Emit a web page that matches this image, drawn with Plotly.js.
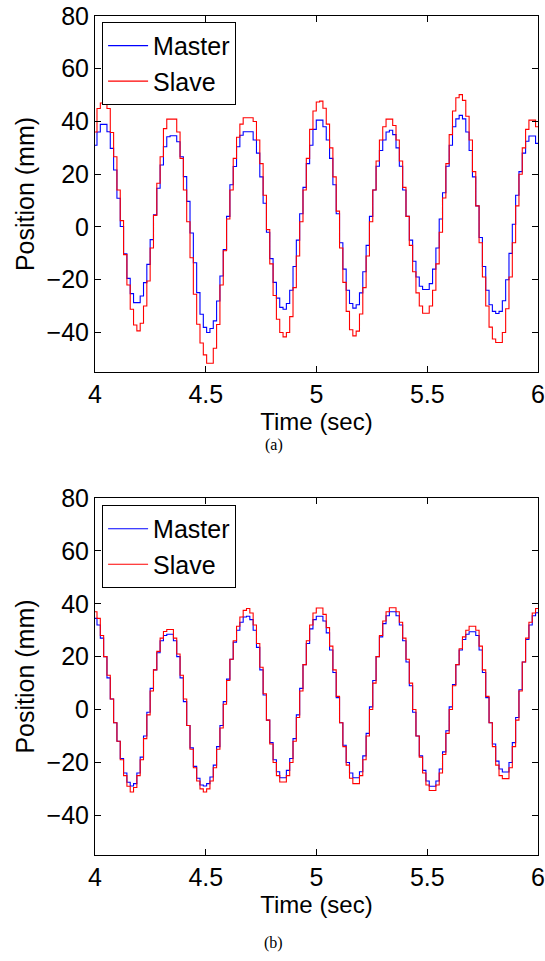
<!DOCTYPE html>
<html>
<head>
<meta charset="utf-8">
<script src="https://cdn.plot.ly/plotly-3.0.1.min.js"></script>
<style>html,body{margin:0;padding:0;background:#fff;}#chart{width:545px;height:961px;}</style>
</head>
<body>
<div id="chart"></div>
<script>
// Sampling of the staircase signals (seconds)
const sampleStart = 3.994;
const sampleStep = 0.015;

// (a) top panel
const topMaster = [31, 36, 38.9, 38.9, 36.1, 29.8, 21.6, 10.9, 0.2, -10.2, -19.5, -25.3, -28.7, -28.7, -26.2, -21.1, -14.2, -4.8, 4.6, 14.7, 23.5, 30.4, 34.2,
  34.6, 34.6, 32.3, 26.6, 19.1, 9.7, -2.3, -13.6, -24.9, -33.1, -38.1, -40, -38.5, -35.6, -28.1, -18.6, -8.6, 4, 16, 22.9, 30.4, 34.8, 36.1, 36.1,
  36.1, 33, 28, 19, 9, -2, -12, -21, -27, -30.5, -31.2, -29, -24, -15, -5, 5, 15, 24, 31, 37, 40.5, 40.5, 38, 33,
  26, 16, 5, -6, -16, -24, -29, -30.8, -29.5, -25, -17, -7, 4, 14, 23, 29, 33, 36, 36.7, 35, 30, 23, 14, 4, -5, -13, -19, -22.5, -23.7, -23.7,
  -21.5, -16, -8, 3, 13, 23, 31, 38, 41, 42.3, 41, 36, 29, 19, 8, -4, -15, -24, -29.5, -32, -32.8, -32, -28, -20, -10, 1, 12, 21, 28, 32.5,
  34.5, 34.5, 31.7, 30];
const topSlave = [36, 44.9, 47, 47, 44.9, 35.8, 26.6, 14, 2.4, -10.5, -22, -31.2, -37.2, -39.4, -36.5, -30, -20.5, -8, 4.4, 16.6, 26.6, 37.3, 40.9,
  40.9, 40.9, 36, 26, 14, 2, -11.7, -25.5, -36.9, -44, -48.5, -51.7, -51.7, -46, -37, -22, -9, 3, 14, 26, 34, 39, 41.4, 41.4,
  41.4, 40, 33, 24, 12, -1, -14, -26, -35, -40, -41.7, -40, -34, -23, -11, 2, 14, 26, 37, 44, 47.4, 47.7, 45, 39,
  30, 19, 6, -8, -21, -32, -39, -41.3, -39.5, -33, -23, -11, 2, 14, 25, 33, 38, 40.9, 40.9, 38.5, 33, 25, 15, 4, -7, -17, -25, -30, -32.7, -32.7,
  -30, -24, -14, -2, 11, 24, 35, 44, 49, 50.2, 48, 42, 33, 21, 8, -6, -19, -30, -38, -42.5, -43.8, -43.8, -40, -31, -19, -6, 8, 20, 30, 37,
  40.5, 40.5, 38, 36];

// (b) bottom panel
const botMaster = [34.5, 32, 27, 20, 12, 4, -5, -12, -18.5, -24, -27.5, -28.9,
  -28, -24, -18, -10, -1, 8, 15, 21.5, 26, 28, 28.5, 28.5,
  26, 20, 12, 3, -6, -14.5, -21.5, -26, -28.5, -28.9,
  -28, -25.5, -21, -14, -6, 3, 11.5, 19, 25.5, 30, 33, 35, 35.3,
  34, 30, 23.5, 15, 5.5, -4, -12.5, -19, -23.5, -25.8, -25.8,
  -23, -18.5, -11, -2, 8, 17, 25, 30.5, 34, 35.3, 35.3,
  33.5, 29, 22.5, 14, 4.5, -5, -13.5, -20, -24, -25.8, -25.8,
  -23.5, -17.5, -9, 1, 11, 20, 27.5, 32.5, 35.5, 37, 37,
  35.5, 32, 26, 18, 9, -1, -10, -17.5, -23, -27, -29, -29,
  -27, -22.5, -16, -8, 1, 9.5, 17, 22.5, 26.5, 28.5, 29.4, 29.4,
  28, 22.5, 14, 4.5, -5, -13, -19.5, -22.5, -23.6, -23.6,
  -20, -12.5, -3, 7.5, 18, 26.5, 32, 35.5, 36.6, 36.6];
const botSlave = [37, 34.5, 28, 20, 13, 4, -5, -12, -19, -25, -29, -31.2,
  -29.5, -25, -19, -11, -2, 7, 15, 22, 27, 29.5, 30.3, 30.3,
  27, 21, 13, 4, -6, -15, -22, -27, -30, -31.2,
  -30, -27, -22, -15, -7, 2, 11, 19, 26, 31.5, 35, 37.5, 38.2,
  36.5, 32, 25, 16, 6, -4, -13, -20, -25, -27.4, -27.4,
  -25, -20, -12, -3, 7, 17, 26, 32, 36.5, 38.4, 38.4,
  36, 31, 24, 15, 5, -5, -14, -21, -26, -28, -28,
  -25, -19, -10, 0, 10, 20, 28, 33.5, 37, 38.5, 38.5,
  37, 33, 27, 19, 10, 0, -10, -18, -24, -28.5, -30.6, -30.6,
  -28.5, -24, -17, -9, 0, 9, 17, 23, 27.5, 30, 31.5, 31.5,
  30, 24, 15, 5, -5, -14, -21, -25, -26.1, -26.1,
  -22, -14, -4, 7, 18, 27, 33, 36.5, 38.2, 38.2];

const seriesNames = ['Master', 'Slave'];
const xTickVals = [4, 4.5, 5, 5.5, 6];
const xTickText = ['4', '4.5', '5', '5.5', '6'];
const yTickVals = [-40, -20, 0, 20, 40, 60, 80];
const yTickText = ['\u221240', '\u221220', '0', '20', '40', '60', '80'];
const captions = ['(a)', '(b)'];

function times(n) { return Array.from({length: n}, (_, i) => sampleStart + i * sampleStep); }

const blue = '#0000ff', red = '#ff0000';
const traces = [
  {x: times(topMaster.length), y: topMaster, name: seriesNames[0], xaxis: 'x', yaxis: 'y', legend: 'legend', line: {shape: 'hv', color: blue, width: 1.1}, mode: 'lines', type: 'scatter'},
  {x: times(topSlave.length), y: topSlave, name: seriesNames[1], xaxis: 'x', yaxis: 'y', legend: 'legend', line: {shape: 'hv', color: red, width: 1.1}, mode: 'lines', type: 'scatter'},
  {x: times(botMaster.length), y: botMaster, name: seriesNames[0], xaxis: 'x2', yaxis: 'y2', legend: 'legend2', line: {shape: 'hv', color: blue, width: 1.1}, mode: 'lines', type: 'scatter'},
  {x: times(botSlave.length), y: botSlave, name: seriesNames[1], xaxis: 'x2', yaxis: 'y2', legend: 'legend2', line: {shape: 'hv', color: red, width: 1.1}, mode: 'lines', type: 'scatter'}
];

const fontFam = 'Liberation Sans, Arial, Helvetica, sans-serif';
function xAx(anchor) {
  return {anchor: anchor, range: [4, 6], tickvals: xTickVals, ticktext: xTickText, ticks: 'inside', ticklen: 6,
    tickcolor: '#000', mirror: 'ticks', showline: true, linecolor: '#000', linewidth: 1, showgrid: false, zeroline: false,
    tickfont: {family: fontFam, size: 25, color: '#000'},
    title: {text: 'Time (sec)', font: {family: fontFam, size: 24, color: '#000'}, standoff: 0}};
}
function yAx(anchor, domain) {
  return {anchor: anchor, domain: domain, range: [-55, 80], tickvals: yTickVals, ticktext: yTickText, ticks: 'inside', ticklen: 6,
    tickcolor: '#000', mirror: 'ticks', showline: true, linecolor: '#000', linewidth: 1, showgrid: false, zeroline: false,
    tickfont: {family: fontFam, size: 25, color: '#000'},
    title: {text: 'Position (mm)', font: {family: fontFam, size: 25, color: '#000'}, standoff: 4}};
}
function leg(y) {
  return {x: 0.016, y: y, xanchor: 'left', yanchor: 'top', bordercolor: '#000', borderwidth: 1, bgcolor: '#fff',
    font: {family: fontFam, size: 25, color: '#000'}, tracegroupgap: 0, itemwidth: 40};
}

const layout = {
  width: 545, height: 961,
  margin: {l: 95, r: 7, t: 16, b: 106},
  paper_bgcolor: '#fff', plot_bgcolor: '#fff',
  showlegend: true,
  xaxis: xAx('y'),
  yaxis: yAx('x', [0.5757, 1]),
  xaxis2: xAx('y2'),
  yaxis2: yAx('x2', [0, 0.4255]),
  legend: leg(0.993),
  legend2: leg(0.4172),
  annotations: [
    {text: captions[0], xref: 'paper', yref: 'paper', x: 0.404, y: 0.4887, xanchor: 'center', yanchor: 'middle', showarrow: false,
      font: {family: 'Liberation Serif, Times New Roman, serif', size: 16, color: '#000'}},
    {text: captions[1], xref: 'paper', yref: 'paper', x: 0.404, y: -0.1049, xanchor: 'center', yanchor: 'middle', showarrow: false,
      font: {family: 'Liberation Serif, Times New Roman, serif', size: 16, color: '#000'}}
  ]
};

Plotly.newPlot('chart', traces, layout, {displayModeBar: false, staticPlot: true});
</script>
</body>
</html>
